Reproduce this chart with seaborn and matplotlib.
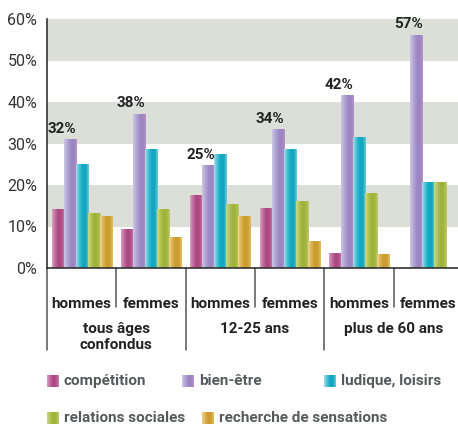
import numpy as np
import pandas as pd
import matplotlib
matplotlib.use('AGG')
from matplotlib import pyplot as plt
from matplotlib.colors import LinearSegmentedColormap
import seaborn as sns

# Data (percent)
slots = ['tous_h', 'tous_f', 'jeunes_h', 'jeunes_f', 'seniors_h', 'seniors_f']
sexes = ['hommes', 'femmes', 'hommes', 'femmes', 'hommes', 'femmes']
ages = ['tous âges\nconfondus', '12-25 ans', 'plus de 60 ans']
motifs = ['compétition', 'bien-être', 'ludique, loisirs',
          'relations sociales', 'recherche de sensations']
competition = [14.0, 9.2, 17.4, 14.3, 3.4, 0]
bien_etre = [30.9, 37.1, 24.6, 33.3, 41.5, 56.1]
ludique = [24.9, 28.5, 27.3, 28.5, 31.4, 20.5]
relations = [13.2, 14.0, 15.2, 16.0, 17.9, 20.5]
sensations = [12.3, 7.3, 12.3, 6.3, 3.2, 0]
labels_be = ['32%', '38%', '25%', '34%', '42%', '57%']
yticks = [0, 10, 20, 30, 40, 50, 60]

series = [competition, bien_etre, ludique, relations, sensations]
df = pd.DataFrame({
    'slot': slots * len(motifs),
    'motif': np.repeat(motifs, len(slots)),
    'val': np.concatenate(series),
})

# gradient stops, left to right, for each motif
grads = [
    ['#daa0c3', '#c16a9c', '#a94680', '#b04f87', '#c980a9'],
    ['#cdc6e3', '#b3a8d6', '#9d8cc6', '#9a84c0', '#b791c6'],
    ['#a3dde8', '#4ec0d5', '#10aac4', '#12a4be', '#6ccadb'],
    ['#c9d88a', '#b2c455', '#9fb23a', '#a3b53f', '#bccb6a'],
    ['#efd391', '#dcb453', '#c99c2c', '#cc9f31', '#e2bd63'],
]
cmaps = [LinearSegmentedColormap.from_list('g%d' % i, g) for i, g in enumerate(grads)]
ramp = np.linspace(0, 1, 64).reshape(1, -1)

sns.set_style('white')
plt.rcParams['font.family'] = ['Roboto', 'DejaVu Sans']

W, H = 458, 425
fig = plt.figure(figsize=(W / 100, H / 100), dpi=100)
ax = fig.add_axes([47 / W, (H - 268) / H, 416 / W, 249 / H])

# grey bands
band = '#dcdfd8'
for lo in [10, 30, 50]:
    ax.axhspan(lo, lo + 10, color=band, lw=0, zorder=0)

sns.barplot(data=df, x='slot', y='val', hue='motif', order=slots,
            hue_order=motifs, palette=[g[2] for g in grads], width=0.87,
            saturation=1, errorbar=None, legend=False, ax=ax)

for i, cont in enumerate(ax.containers):
    for bar in cont:
        x0, w, h = bar.get_x(), bar.get_width(), bar.get_height()
        bar.set_facecolor('none')
        bar.set_edgecolor('none')
        if h <= 0:
            continue
        ax.imshow(ramp, cmap=cmaps[i], extent=[x0, x0 + w, 0, h],
                  aspect='auto', interpolation='bilinear', zorder=2)

# percentage labels above bien-etre bars
for bar, lab in zip(ax.containers[1], labels_be):
    ax.text(bar.get_x() + bar.get_width() + 0.01, bar.get_height() + 0.9, lab,
            ha='right', va='bottom', fontsize=11, fontweight='bold',
            color='#222222', zorder=3)

ax.set_xlim(-0.5, 5.5)
ax.set_ylim(0, 60)
ax.set_yticks(yticks, ['%d%%' % t for t in yticks])
ax.tick_params(axis='y', length=0, pad=7, labelsize=11.5, labelcolor='#333333')
ax.set_xticks(range(len(slots)), sexes)
ax.tick_params(axis='x', length=0, pad=21, labelsize=11, labelcolor='#222222')
for t in ax.get_xticklabels():
    t.set_fontweight('bold')
ax.set_xlabel('')
ax.set_ylabel('')
for s in ['top', 'right']:
    ax.spines[s].set_visible(False)
for s in ['left', 'bottom']:
    ax.spines[s].set_color('#333333')
    ax.spines[s].set_linewidth(1.2)

# separators below the axis
tr = ax.get_xaxis_transform()
for k in range(len(slots)):
    xb = k - 0.5
    y_end = -0.33 if k % 2 == 0 else -0.157
    ax.plot([xb, xb], [0, y_end], color='#555555', lw=1.1,
            transform=tr, clip_on=False)

for j, a in enumerate(ages):
    ax.text(2 * j + 0.5, -0.217, a, transform=tr, ha='center', va='top',
            fontsize=11, fontweight='bold', color='#222222', linespacing=1.15)

# legend, drawn by hand to keep the original layout
leg = [(0, 47, 381), (1, 182, 381), (2, 324, 381), (3, 47, 418), (4, 202, 418)]
for i, px, py in leg:
    lax = fig.add_axes([px / W, (H - py - 6.5) / H, 12 / W, 13 / H])
    lax.imshow(ramp, cmap=cmaps[i], aspect='auto', interpolation='bilinear')
    lax.axis('off')
    fig.text((px + 17) / W, (H - py) / H, motifs[i], ha='left', va='center',
             fontsize=11, fontweight='bold', color='#555a5a')

fig.savefig('out.png', dpi=100)
